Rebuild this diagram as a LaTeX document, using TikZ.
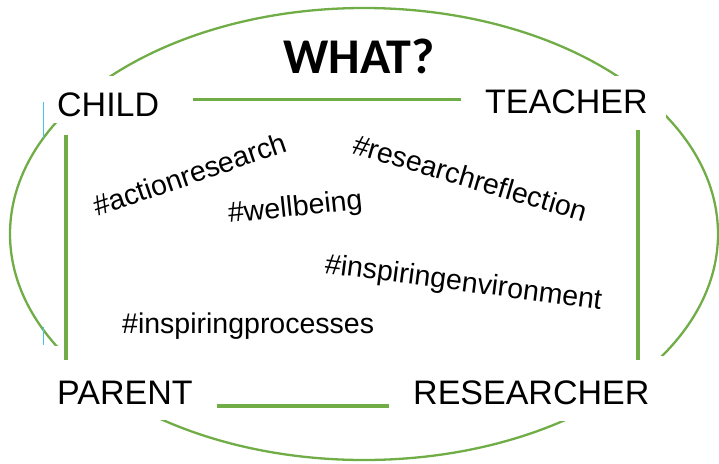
\documentclass[tikz,border=0pt]{standalone}
\usepackage{fontspec}
\setmainfont{Liberation Sans}
\newfontfamily\calibri{Carlito}
\definecolor{leafgreen}{RGB}{112,173,71}
\definecolor{guideblue}{RGB}{70,195,235}
\tikzset{
  corner/.style={font=\fontsize{34}{40}\selectfont, fill=white, inner xsep=8pt, inner ysep=0pt, anchor=base west},
  tag/.style={font=\fontsize{28.5}{34}\selectfont, inner sep=0pt, anchor=base west},
  link/.style={draw=leafgreen, line width=3.5pt},
}

\begin{document}
\begin{tikzpicture}[x=1pt,y=-1pt]
  \useasboundingbox (0,0) rectangle (719,463);
  % outer ring and stray guide
  \draw[leafgreen, line width=2.3pt] (364,234) ellipse [x radius=354, y radius=226];
  \draw[guideblue, line width=0.8pt] (43,102) -- (43,138) (43,327) -- (43,345);

  \node[font=\calibri\bfseries\fontsize{50}{60}\selectfont, anchor=base] (what) at (359,73) {WHAT?};

  % corners
  \node[corner, text height=40pt, text depth=7pt] (child) at (49,116) {CHILD};
  \node[corner, inner xsep=18pt, text height=37pt, text depth=10pt] (teacher) at (467,113) {TEACHER};
  \node[corner, text height=58pt, text depth=16pt] (parent) at (49,404) {PARENT};
  \node[corner, inner xsep=16pt, text height=48pt, text depth=17pt] (researcher) at (397,404) {RESEARCHER};

  % hashtags
  \node[tag, rotate=19] (action) at (97,217) {\#actionresearch};
  \node[tag, rotate=6] (wellbeing) at (229,223) {\#wellbeing};
  \node[tag, rotate=-16.5] (reflection) at (351,153) {\#researchreflection};
  \node[tag, rotate=-7.5] (environment) at (324,273) {\#inspiringenvironment};
  \node[tag] (processes) at (122,333) {\#inspiringprocesses};

  % links
  \draw[link, shorten <=26pt, shorten >=6pt] (child.east) -- (child.east -| teacher.west);
  \draw[link, shorten <=12pt, shorten >=-14pt] ([xshift=17pt]child.south west) -- ([xshift=17pt]child.south west |- parent.north);
  \draw[link, shorten <=7pt, shorten >=-4pt] ([xshift=-28pt]teacher.south east) -- ([xshift=-28pt]teacher.south east |- researcher.north);
  \draw[link, shorten <=16pt, shorten >=8pt] ([yshift=-2pt]parent.base east) -- ([yshift=-2pt]parent.base east -| researcher.west);
\end{tikzpicture}
\end{document}
